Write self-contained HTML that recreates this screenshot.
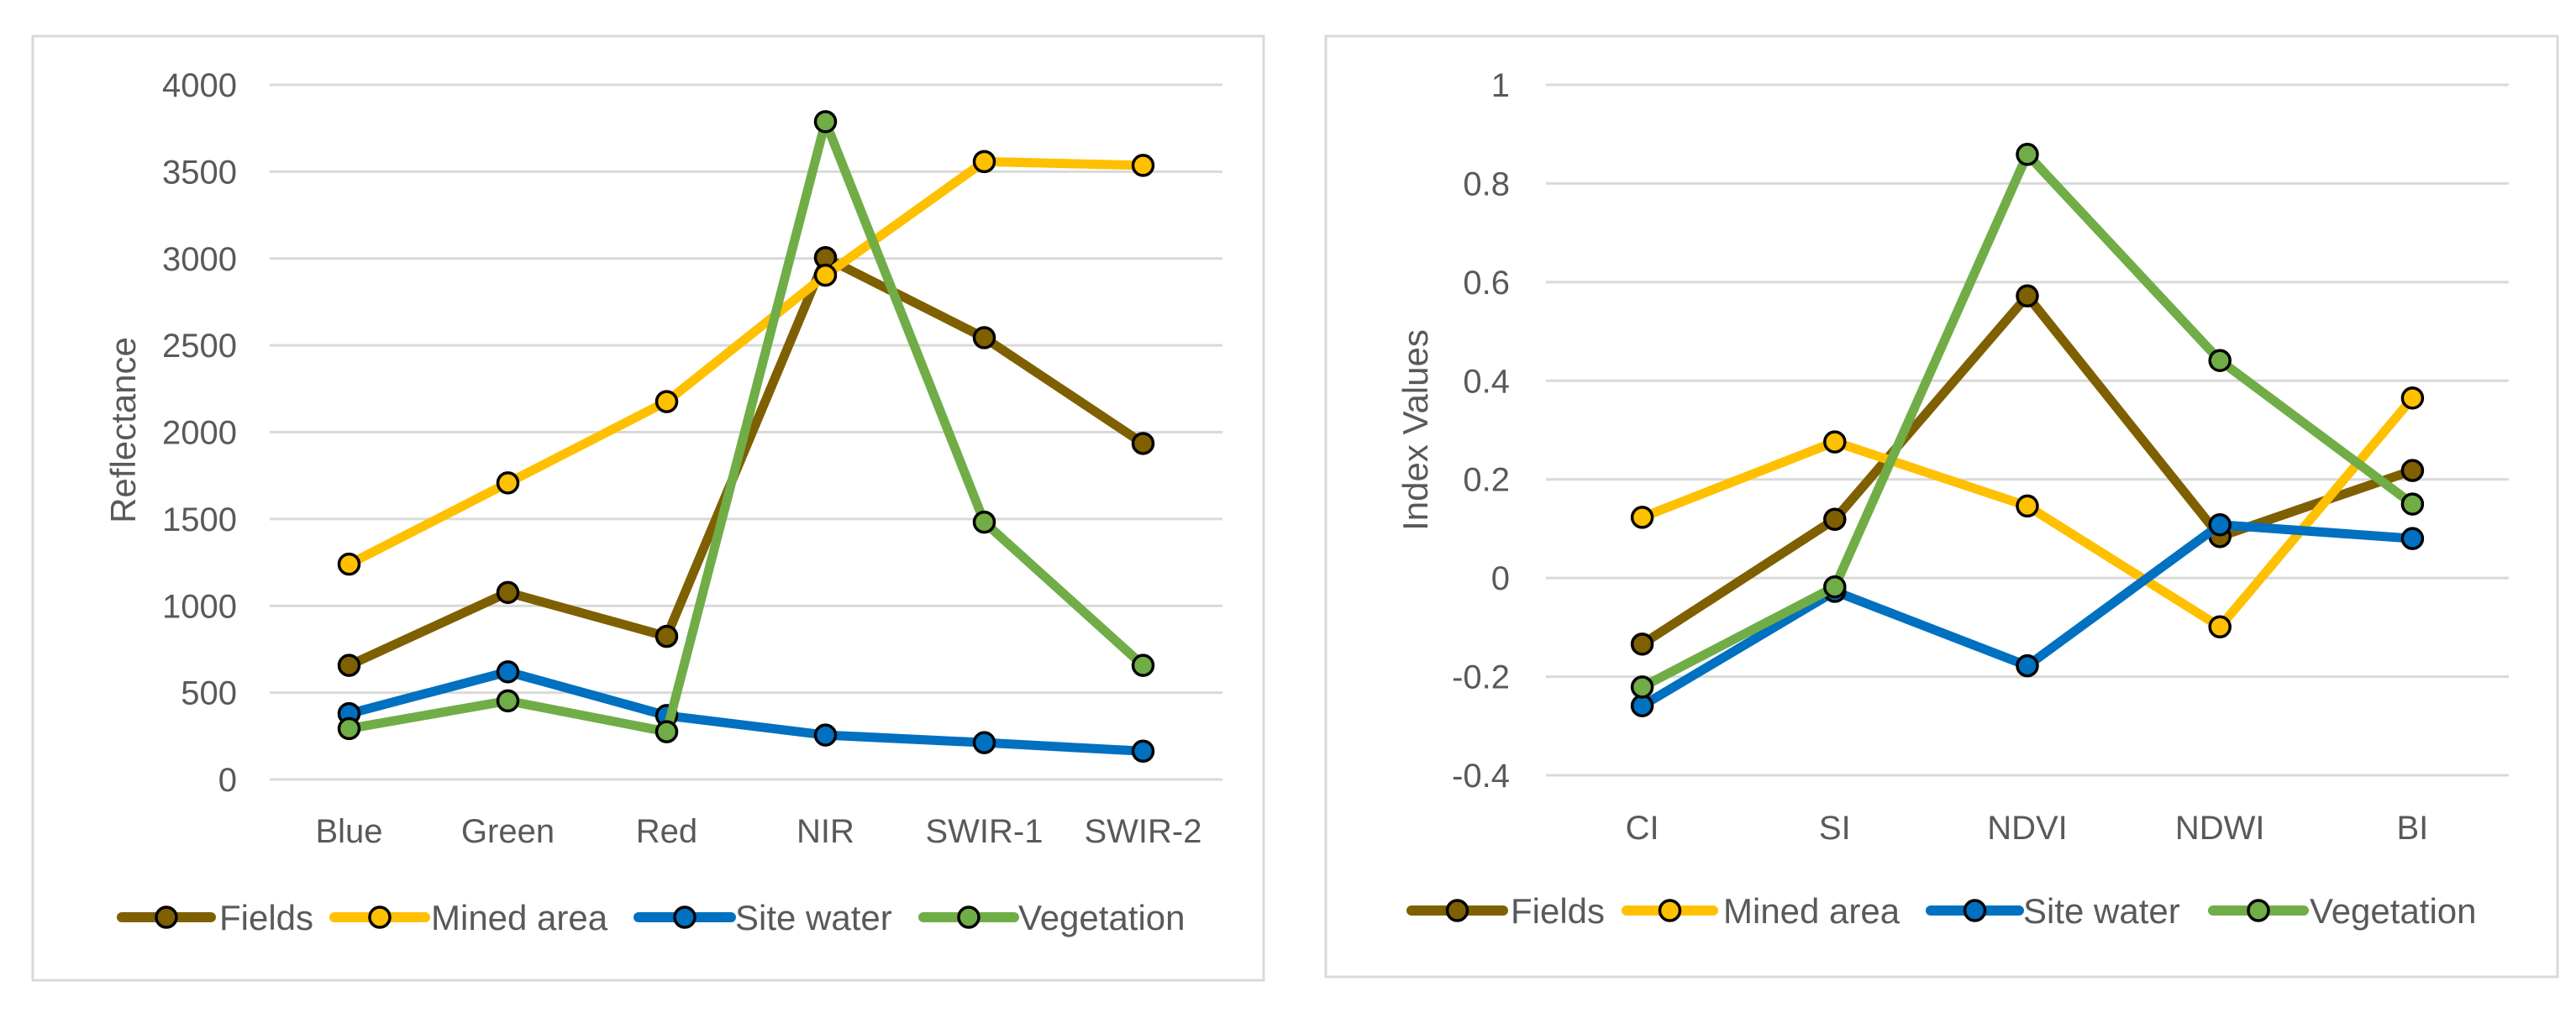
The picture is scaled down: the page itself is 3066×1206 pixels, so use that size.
<!DOCTYPE html>
<html><head><meta charset="utf-8"><style>
html,body{margin:0;padding:0;background:#fff}
svg{display:block}
text{font-family:"Liberation Sans",sans-serif;fill:#595959}
</style></head><body>
<svg id="s" width="3066" height="1206" viewBox="0 0 3066 1206" xmlns="http://www.w3.org/2000/svg">
<rect x="39" y="43" width="1465" height="1124" fill="#fff" stroke="#d9d9d9" stroke-width="3"/>
<rect x="1578" y="43" width="1466" height="1120" fill="#fff" stroke="#d9d9d9" stroke-width="3"/>
<text x="150" y="512" font-size="42" text-anchor="middle" transform="rotate(-90 150 512)" dominant-baseline="middle">Reflectance</text>
<text x="1688" y="512" font-size="42" text-anchor="middle" transform="rotate(-90 1688 512)" dominant-baseline="middle">Index Values</text>
<g id="L"></g><g id="R"></g>
</svg>
<script>
const seriesNames = ["Fields","Mined area","Site water","Vegetation"];
const colors = ["#7f6000","#ffc000","#0070c0","#70ad47"];
const leftCats = ["Blue","Green","Red","NIR","SWIR-1","SWIR-2"];
const leftTicks = [0,500,1000,1500,2000,2500,3000,3500,4000];
const leftFields = [657,1077,824,3005,2544,1935];
const leftMined = [1240,1708,2176,2904,3558,3536];
const leftWater = [379,620,368,256,212,163];
const leftVeg = [293,453,275,3788,1482,657];
const rightCats = ["CI","SI","NDVI","NDWI","BI"];
const rightTicks = [-0.4,-0.2,0,0.2,0.4,0.6,0.8,1];
const rightFields = [-0.134,0.119,0.572,0.084,0.218];
const rightMined = [0.123,0.276,0.146,-0.099,0.365];
const rightWater = [-0.259,-0.027,-0.178,0.108,0.080];
const rightVeg = [-0.221,-0.018,0.859,0.441,0.150];

const NS="http://www.w3.org/2000/svg";
function mk(tag,attrs,parent){const e=document.createElementNS(NS,tag);for(const k in attrs)e.setAttribute(k,attrs[k]);parent.appendChild(e);return e;}

function chart(g,p,cats,ticks,series,prefix){
  const x0=p.x0,x1=p.x1,yTop=101,yBot=p.yBot;
  const vmin=ticks[0],vmax=ticks[ticks.length-1];
  const X=i=>x0+(x1-x0)/cats.length*(i+0.5);
  const Y=v=>yBot-(v-vmin)/(vmax-vmin)*(yBot-yTop);
  ticks.forEach(t=>{
    const l=mk('line',{x1:x0,x2:x1,y1:Y(t),y2:Y(t),stroke:'#d9d9d9','stroke-width':3},g);
    
    
    const tx=mk('text',{x:p.tickX,y:Y(t)+14,'font-size':40,'text-anchor':'end'},g);
    tx.textContent=String(t);
    
    
  });
  cats.forEach((c,i)=>{
    const tx=mk('text',{x:X(i),y:p.catY,'font-size':40,'text-anchor':'middle'},g);
    tx.textContent=c;
    
    
  });
  series.forEach((vals,si)=>{
    const pl=mk('polyline',{points:vals.map((v,i)=>X(i)+','+Y(v)).join(' '),fill:'none',stroke:colors[si],'stroke-width':11,'stroke-linejoin':'round','stroke-linecap':'round'},g);
    
    
    vals.forEach((v,i)=>{
      const c=mk('circle',{cx:X(i),cy:Y(v),r:12,fill:colors[si],stroke:'#000','stroke-width':3.5},g);
      
      
    });
  });
  p.legend.forEach((lg,si)=>{
    const y=p.legY;
    const l=mk('line',{x1:lg[0],x2:lg[1],y1:y,y2:y,stroke:colors[si],'stroke-width':12,'stroke-linecap':'round'},g);
    
    
    const c=mk('circle',{cx:(lg[0]+lg[1])/2,cy:y,r:12,fill:colors[si],stroke:'#000','stroke-width':3.5},g);
    
    
    const t=mk('text',{x:lg[2],y:y+15,'font-size':42},g);
    t.textContent=seriesNames[si];
    
    
  });
}
chart(document.getElementById('L'),{x0:321,x1:1455,yBot:928,tickX:282,catY:1003,legY:1092,
  legend:[[145,251,261],[398,506,513],[760,870,875],[1099,1207,1212]]},
  leftCats,leftTicks,[leftFields,leftMined,leftWater,leftVeg],'left-');
chart(document.getElementById('R'),{x0:1840,x1:2986,yBot:923,tickX:1797,catY:999,legY:1084,
  legend:[[1680,1789,1798],[1936,2039,2051],[2298,2403,2408],[2634,2742,2749]]},
  rightCats,rightTicks,[rightFields,rightMined,rightWater,rightVeg],'right-');
</script>
</body></html>
